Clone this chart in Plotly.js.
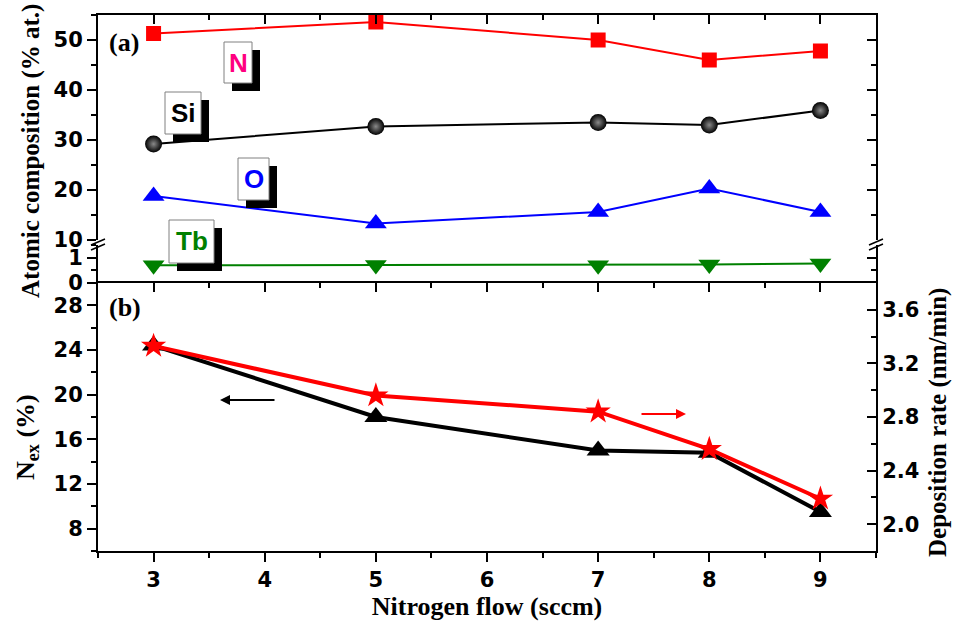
<!DOCTYPE html>
<html>
<head>
<meta charset="utf-8">
<script src="https://cdn.plot.ly/plotly-3.0.1.min.js"></script>
<style>html,body{margin:0;padding:0;background:#fff;}#chart{width:954px;height:630px;}</style>
</head>
<body>
<div id="chart"></div>
<script>
// ---- data ----
const flow = [3, 5, 7, 8, 9];
const nitrogen = [51.3, 53.6, 50.0, 46.0, 47.8];
const silicon = [29.2, 32.7, 33.5, 33.0, 35.9];
const oxygen = [18.8, 13.3, 15.6, 20.3, 15.6];
const terbium = [0.70, 0.71, 0.70, 0.73, 0.77];
const nex = [24.4, 18.0, 15.0, 14.8, 9.5];
const depRate = [3.33, 2.96, 2.84, 2.56, 2.19];
const elementLabels = ['N', 'Si', 'O', 'Tb'];

// ---- geometry helpers (plot area in pixels) ----
const L = 98, R = 876, T = 15, B = 551;
const px = x => (x - L) / (R - L);
const py = y => (B - y) / (B - T);

const tickFont = {family: 'DejaVu Sans, sans-serif', size: 21, color: '#000', weight: 'bold'};
const titleFont = {family: 'Liberation Serif, Times New Roman, serif', size: 26, color: '#000', weight: 'bold'};
const sideTitleFont = {family: 'Liberation Serif, Times New Roman, serif', size: 25, color: '#000', weight: 'bold'};
const lineAx = {showline: true, linecolor: '#000', linewidth: 2, tickcolor: '#000', tickwidth: 2, showgrid: false, zeroline: false, fixedrange: true};

const traces = [
  {x: flow, y: nitrogen, xaxis: 'x', yaxis: 'y3', mode: 'lines+markers', line: {color: '#ff0000', width: 2},
   marker: {symbol: 'square', size: 15, color: '#ff0000'}, showlegend: false},
  {x: flow, y: silicon, xaxis: 'x', yaxis: 'y3', mode: 'lines+markers', line: {color: '#000', width: 2},
   marker: {symbol: 'circle', size: 17, color: '#000', gradient: {type: 'radial', color: '#8a8a8a'}}, showlegend: false},
  {x: flow, y: oxygen, xaxis: 'x', yaxis: 'y3', mode: 'lines+markers', line: {color: '#0000ff', width: 2},
   marker: {symbol: 'triangle-up', size: 19, color: '#0000ff'}, showlegend: false},
  {x: flow, y: terbium, xaxis: 'x', yaxis: 'y2', mode: 'lines+markers', line: {color: '#008000', width: 2},
   marker: {symbol: 'triangle-down', size: 19, color: '#008000'}, showlegend: false},
  {x: flow, y: nex, xaxis: 'x', yaxis: 'y', mode: 'lines+markers', line: {color: '#000', width: 4},
   marker: {symbol: 'triangle-up', size: 20, color: '#000'}, showlegend: false},
  {x: flow, y: depRate, xaxis: 'x', yaxis: 'y4', mode: 'lines+markers', line: {color: '#ff0000', width: 4},
   marker: {symbol: 'star', size: 19, color: '#ff0000'}, showlegend: false},
  // empty helper traces so that the frame-only axes are drawn
  {x: [], y: [], xaxis: 'x2', yaxis: 'y', showlegend: false, hoverinfo: 'skip'},
  {x: [], y: [], xaxis: 'x3', yaxis: 'y3', showlegend: false, hoverinfo: 'skip'},
  {x: [], y: [], xaxis: 'x', yaxis: 'y5', showlegend: false, hoverinfo: 'skip'},
  {x: [], y: [], xaxis: 'x', yaxis: 'y6', showlegend: false, hoverinfo: 'skip'}
];

const yUpper = [py(240), 1];
const yLower = [py(283), py(245)];
const minorOut = {ticks: 'outside', ticklen: 5, tickwidth: 2, tickcolor: '#000'};
const minorIn = {ticks: 'inside', ticklen: 5, tickwidth: 2, tickcolor: '#000'};

const layout = {
  width: 954, height: 630,
  margin: {l: L, r: 954 - R, t: T, b: 630 - B},
  paper_bgcolor: '#fff', plot_bgcolor: 'rgba(0,0,0,0)',
  showlegend: false,
  xaxis: Object.assign({}, lineAx, {domain: [0, 1], anchor: 'y', range: [2.5, 9.5], ticks: 'outside', ticklen: 9,
    dtick: 1, tick0: 0, tickfont: tickFont, minor: Object.assign({dtick: 0.5}, minorOut),
    title: {text: 'Nitrogen flow (sccm)', font: titleFont, standoff: 4}}),
  xaxis2: Object.assign({}, lineAx, {overlaying: 'x', anchor: 'y', side: 'top', range: [2.5, 9.5], ticks: 'inside', ticklen: 9,
    dtick: 1, tick0: 0, showticklabels: false, minor: Object.assign({dtick: 0.5}, minorIn)}),
  xaxis3: Object.assign({}, lineAx, {overlaying: 'x', anchor: 'y3', side: 'top', range: [2.5, 9.5], ticks: 'inside', ticklen: 9,
    dtick: 1, tick0: 0, showticklabels: false, minor: Object.assign({dtick: 0.5}, minorIn)}),
  yaxis: Object.assign({}, lineAx, {domain: [0, 0.5], anchor: 'x', range: [6, 30], ticks: 'outside', ticklen: 9,
    dtick: 4, tick0: 0, tickfont: tickFont, minor: Object.assign({dtick: 2}, minorOut)}),
  yaxis2: Object.assign({}, lineAx, {domain: yLower, anchor: 'x', range: [0, 1.5], ticks: 'outside', ticklen: 9,
    dtick: 1, tick0: 0, tickfont: tickFont, minor: Object.assign({dtick: 0.5}, minorOut)}),
  yaxis3: Object.assign({}, lineAx, {domain: yUpper, anchor: 'x', range: [10, 55], ticks: 'outside', ticklen: 9,
    dtick: 10, tick0: 0, tickfont: tickFont, minor: Object.assign({dtick: 5}, minorOut)}),
  yaxis4: Object.assign({}, lineAx, {overlaying: 'y', side: 'right', anchor: 'x', range: [1.8, 3.8], ticks: 'inside', ticklen: 9,
    dtick: 0.4, tick0: 0, tickformat: '.1f', tickfont: tickFont, minor: Object.assign({dtick: 0.2}, minorIn)}),
  yaxis5: Object.assign({}, lineAx, {overlaying: 'y3', side: 'right', anchor: 'x', range: [10, 55], ticks: 'inside', ticklen: 9,
    dtick: 10, tick0: 0, showticklabels: false, minor: Object.assign({dtick: 5}, minorIn)}),
  yaxis6: Object.assign({}, lineAx, {overlaying: 'y2', side: 'right', anchor: 'x', range: [0, 1.5], ticks: 'inside', ticklen: 9,
    dtick: 1, tick0: 0, showticklabels: false, minor: Object.assign({dtick: 0.5}, minorIn)}),
  shapes: [],
  annotations: []
};

// element label boxes: [x0, y0, x1, y1] in pixels, with a black drop shadow
const boxes = [[224, 42, 252, 83], [165, 92, 201, 134], [238, 158, 269, 200], [169, 220, 214, 263]];
const boxColors = ['#ff0080', '#000000', '#0000ff', '#008000'];
boxes.forEach((b, i) => {
  layout.shapes.push({type: 'rect', xref: 'paper', yref: 'paper', layer: 'above',
    x0: px(b[0] + 8), x1: px(b[2] + 8), y0: py(b[1] + 8), y1: py(b[3] + 8), fillcolor: '#000', line: {width: 0}});
  layout.shapes.push({type: 'rect', xref: 'paper', yref: 'paper', layer: 'above',
    x0: px(b[0]), x1: px(b[2]), y0: py(b[1]), y1: py(b[3]), fillcolor: '#fff', line: {color: '#808080', width: 1}});
  layout.annotations.push({xref: 'paper', yref: 'paper', x: px((b[0] + b[2]) / 2), y: py((b[1] + b[3]) / 2),
    xanchor: 'center', yanchor: 'middle', showarrow: false, text: elementLabels[i],
    font: {family: 'Liberation Sans, Arial, sans-serif', size: 26, color: boxColors[i], weight: 'bold'}});
});

// axis break marks
[L, R].forEach(xp => {
  [0, 5].forEach(dy => {
    layout.shapes.push({type: 'line', xref: 'paper', yref: 'paper', layer: 'above',
      x0: px(xp - 7), x1: px(xp + 7), y0: py(245 + dy), y1: py(239 + dy), line: {color: '#000', width: 1.5}});
  });
});

// panel labels
layout.annotations.push({xref: 'paper', yref: 'paper', x: px(107), y: py(42), xanchor: 'left', yanchor: 'middle',
  showarrow: false, text: '(a)', font: titleFont});
layout.annotations.push({xref: 'paper', yref: 'paper', x: px(107), y: py(307), xanchor: 'left', yanchor: 'middle',
  showarrow: false, text: '(b)', font: titleFont});

// axis-direction arrows
layout.annotations.push({xref: 'paper', yref: 'paper', x: px(220), y: py(400), ax: 56, ay: 0, axref: 'pixel', ayref: 'pixel',
  text: '', showarrow: true, arrowhead: 2, arrowsize: 1, arrowwidth: 2, arrowcolor: '#000'});
layout.annotations.push({xref: 'paper', yref: 'paper', x: px(686), y: py(414), ax: -46, ay: 0, axref: 'pixel', ayref: 'pixel',
  text: '', showarrow: true, arrowhead: 2, arrowsize: 1, arrowwidth: 2, arrowcolor: '#ff0000'});

// y-axis titles
layout.annotations.push({xref: 'paper', yref: 'paper', x: px(31), y: py(151), xanchor: 'center', yanchor: 'middle',
  showarrow: false, textangle: -90, text: 'Atomic composition (% at.)', font: sideTitleFont});
layout.annotations.push({xref: 'paper', yref: 'paper', x: px(27), y: py(437), xanchor: 'center', yanchor: 'middle',
  showarrow: false, textangle: -90, text: 'N<sub>ex</sub> (%)', font: titleFont});
layout.annotations.push({xref: 'paper', yref: 'paper', x: px(938), y: py(423), xanchor: 'center', yanchor: 'middle',
  showarrow: false, textangle: -90, text: 'Deposition rate (nm/min)', font: sideTitleFont});

Plotly.newPlot('chart', traces, layout, {displayModeBar: false, staticPlot: true});
</script>
</body>
</html>
